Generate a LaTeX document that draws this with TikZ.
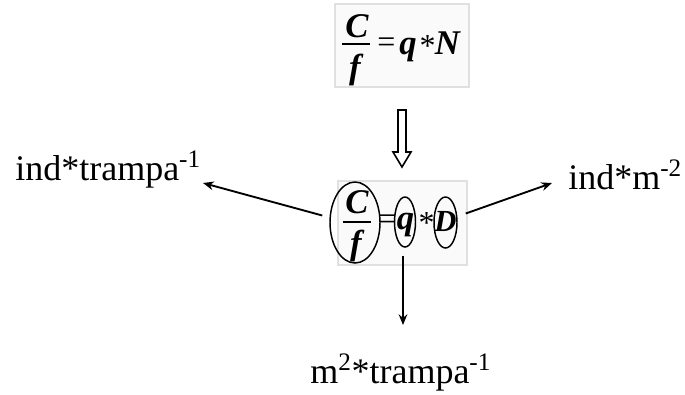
\documentclass[tikz,border=0pt]{standalone}
\usepackage{fontspec}
\setmainfont{Liberation Serif}
\usetikzlibrary{shapes.geometric,arrows.meta}
\begin{document}
\begin{tikzpicture}[x=0.75pt,y=-0.75pt,
  box/.style={draw=black!12, fill=black!2, line width=1pt, inner sep=0pt},
  oval/.style={shape=ellipse, draw, line width=1.1pt, inner sep=0pt},
  lbl/.style={font=\fontsize{27}{32}\selectfont, inner sep=0pt, anchor=base west},
  bt/.style={font=\fontsize{26}{30}\selectfont\bfseries\itshape, inner sep=0pt, anchor=base},
  bd/.style={font=\fontsize{23}{27}\selectfont\bfseries\itshape, inner sep=0pt, anchor=base},
  rt/.style={font=\fontsize{24}{28}\selectfont, inner sep=0pt, anchor=base},
  arr/.style={-{Stealth[length=8pt,width=6.5pt]}, line width=1.4pt},
  fbar/.style={line width=1.5pt}]
\useasboundingbox (0,0) rectangle (685,394);
% boxes
\node[box, minimum width=100.5pt, minimum height=62.25pt] (topbox) at (402,45.5) {};
\node[box, minimum width=96.75pt, minimum height=63pt] (botbox) at (402.5,223) {};
% top formula
\node[bt] (tC) at (357,37) {C};
\node[bt] (tf) at (355,78) {f};
\draw[fbar] (342,44) -- (370,44);
\node[rt] (teq) at (386.5,52) {=};
\node[bt] (tq) at (408,54) {q};
\node[rt] (tst) at (427.5,56) {*};
\node[bt] (tN) at (447.5,54) {N};
% hollow arrow
\draw[line width=1.2pt] (398,110) -- (406,110) -- (406,152) -- (411,152) -- (402,167) -- (393,152) -- (398,152) -- cycle;
% bottom formula
\node[oval, minimum width=37.5pt, minimum height=60.75pt] (cf) at (355,222.5) {};
\node[oval, minimum width=15.75pt, minimum height=37.5pt] (q) at (405,222) {};
\node[oval, minimum width=17.25pt, minimum height=38.25pt] (D) at (445.5,222.5) {};
\node[bt] (bC) at (357,213) {C};
\node[bt] (bf) at (356,254) {f};
\draw[fbar] (343,221.5) -- (371,221.5);
\node[rt] (beq) at (387.5,229) {=};
\node[bt] (bq) at (405.5,229) {q};
\node[rt] (bst) at (426.5,233) {*};
\node[bd] (bD) at (445.5,231) {D};
% labels
\node[lbl] (l1) at (15,180) {ind*trampa\textsuperscript{-1}};
\node[lbl] (l2) at (568,189) {ind*m\textsuperscript{-2}};
\node[lbl] (l3) at (310,383) {m\textsuperscript{2}*trampa\textsuperscript{-1}};
\coordinate (t1) at (203,183);
\coordinate (t2) at (552,183);
\coordinate (t3) at (403,325);
\draw[arr] ([shift={(-7,-7)}]cf.west) -- (t1);
\draw[arr] ([shift={(8,-9)}]D.east) -- (t2);
\draw[arr] ([shift={(-2,8)}]q.south) -- (t3);
\end{tikzpicture}
\end{document}
